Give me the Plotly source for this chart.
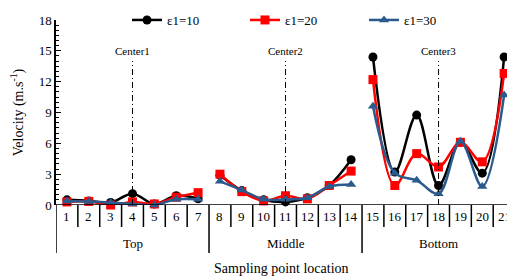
import plotly.graph_objects as go

points = list(range(1, 22))
tick_labels = [str(i) for i in points]
groups = ["Top", "Middle", "Bottom"]
group_size = 7
centers = [4, 11, 18]
center_labels = ["Center1", "Center2", "Center3"]

eps10 = [0.5, 0.4, 0.25, 1.1, 0.1, 0.9, 0.6,
         2.9, 1.4, 0.5, 0.3, 0.7, 1.9, 4.4,
         14.4, 3.2, 8.75, 1.9, 6.1, 3.1, 14.4]
eps20 = [0.3, 0.35, 0.0, 0.3, 0.1, 0.75, 1.2,
         3.0, 1.3, 0.4, 0.9, 0.6, 1.9, 3.3,
         12.2, 1.9, 5.0, 3.7, 6.1, 4.2, 12.8]
eps30 = [0.4, 0.35, 0.25, 0.1, 0.0, 0.55, 0.55,
         2.3, 1.45, 0.55, 0.55, 0.7, 1.8, 2.0,
         9.6, 3.1, 2.4, 1.1, 6.2, 1.8, 10.7]

series = [("ε1=10", eps10, "black", "circle"),
          ("ε1=20", eps20, "#FF0000", "square"),
          ("ε1=30", eps30, "#2B5B8C", "triangle-up")]
legend_x_px = [127, 245, 364]

def split(vals):
    xs, ys = [], []
    for g in range(len(groups)):
        for i in range(g * group_size, (g + 1) * group_size):
            xs.append(points[i]); ys.append(vals[i])
        xs.append(None); ys.append(None)
    return xs, ys

font = "Liberation Serif"
FW, FH = 507, 280
PL, PT, PB = 56, 20, 205     # plot-area px
PW, PH = FW - PL, PB - PT
unit = 21.86                 # px per category
xmax = 0.5 + PW / unit

fig = go.Figure()
legend_layout = {}
for k, (name, vals, col, sym) in enumerate(series):
    xs, ys = split(vals)
    lname = "legend" if k == 0 else f"legend{k+1}"
    fig.add_trace(go.Scatter(x=xs, y=ys, name=name, mode="lines+markers",
                             connectgaps=False, legend=lname, showlegend=True, cliponaxis=False,
                             line=dict(color=col, width=2.5, shape="spline", smoothing=1),
                             marker=dict(color=col, symbol=sym, size=9)))
    legend_layout[lname] = dict(x=(legend_x_px[k] - PL) / PW, y=1.0, xanchor="left", yanchor="middle",
                                orientation="h", itemwidth=30,
                                font=dict(size=13, family=font, color="black"),
                                bgcolor="rgba(0,0,0,0)")

shapes = []
for c in centers:
    shapes.append(dict(type="line", xref="x", yref="y", x0=c, x1=c, y0=0, y1=14.0,
                       line=dict(color="black", width=1, dash="6px,3px,1px,3px")))
n = len(points)
for k in range(n + 1):
    xb = k + 0.5
    long = (k % group_size == 0)
    shapes.append(dict(type="line", xref="x", yref="paper", x0=xb, x1=xb,
                       y0=0, y1=-48 / PH if long else -22 / PH,
                       line=dict(color="black", width=1.5)))
shapes.append(dict(type="line", xref="paper", yref="y", x0=0, x1=1, y0=0, y1=0,
                   line=dict(color="black", width=1.5)))

annotations = []
for c, lab in zip(centers, center_labels):
    annotations.append(dict(x=c, y=14.2, xref="x", yref="y", text=lab, showarrow=False,
                            font=dict(size=11, family=font, color="black"), yanchor="bottom"))
for i, t in zip(points, tick_labels):
    annotations.append(dict(x=i, y=-11 / PH, xref="x", yref="paper", text=t, showarrow=False,
                            yanchor="middle",
                            font=dict(size=13, family=font, color="black")))
for g, lab in enumerate(groups):
    xc = (points[g * group_size] + points[(g + 1) * group_size - 1]) / 2
    annotations.append(dict(x=xc, y=-38 / PH, xref="x", yref="paper", text=lab, showarrow=False,
                            yanchor="middle",
                            font=dict(size=13, family=font, color="black")))
annotations.append(dict(x=(281 - PL) / PW, y=-63 / PH, xref="paper", yref="paper",
                        text="Sampling point location", showarrow=False, yanchor="middle",
                        font=dict(size=14, family=font, color="black")))

fig.update_layout(
    width=FW, height=FH,
    margin=dict(l=PL, r=0, t=PT, b=FH - PB, autoexpand=False),
    showlegend=True,
    paper_bgcolor="white", plot_bgcolor="white",
    font=dict(family=font, color="black", size=13),
    shapes=shapes, annotations=annotations,
    xaxis=dict(range=[0.5, xmax], showgrid=False, zeroline=False, showline=False,
               showticklabels=False, ticks=""),
    yaxis=dict(range=[0, 18], dtick=3, showgrid=False, zeroline=False,
               showline=True, linecolor="black", linewidth=1.5,
               ticks="inside", ticklen=5, tickcolor="black",
               minor=dict(dtick=0.5, ticks="inside", ticklen=3, tickcolor="black"),
               tickfont=dict(size=13, family=font),
               title=dict(text="Velocity (m.s<sup>-1</sup>)", font=dict(size=14, family=font), standoff=12)),
    **legend_layout,
)
fig.write_html("out.html", config={"displayModeBar": False},
               post_script="document.body.style.margin='0';document.body.style.overflow='hidden';")
